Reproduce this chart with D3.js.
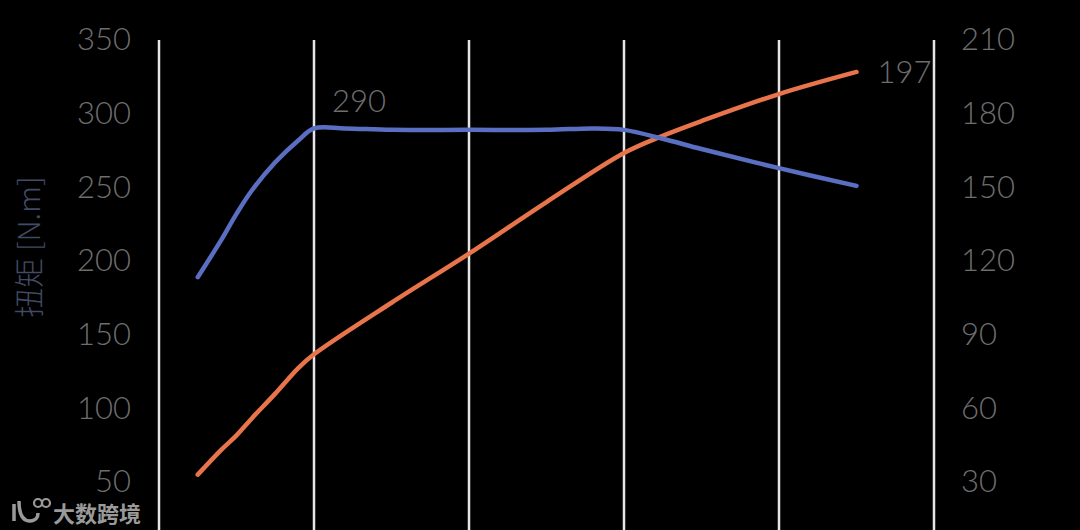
<!DOCTYPE html>
<html><head><meta charset="utf-8">
<script src="https://cdn.jsdelivr.net/npm/d3@7"></script>
<style>
html,body{margin:0;padding:0;background:#000;}
svg{display:block;}
</style></head>
<body>
<svg id="c" width="1080" height="530"></svg>
<script>
// ---- data ----
const rpmGrid = [1000, 2000, 3000, 4000, 5000, 6000];
const torqueTicks = [50, 100, 150, 200, 250, 300, 350];
const powerTicks = [30, 60, 90, 120, 150, 180, 210];
const torqueRpm = [1250, 1400, 1500, 1600, 1750, 1900, 2000, 2200, 2500, 3000, 3500, 3800, 4000, 4250, 4500, 5000, 5500];
const torqueVal = [189, 214, 232, 248, 267, 282, 290, 290, 289, 289, 289, 290, 289, 283, 276, 263, 251];
const powerRpm  = [1250, 1400, 1500, 1600, 1750, 1900, 2000, 2500, 3000, 3500, 4000, 4250, 4500, 5000, 5500];
const powerVal  = [33, 43, 49, 56, 66, 76.5, 82, 103, 123, 144, 164, 171, 177, 188, 197];
const peakTorqueLabel = "290";
const peakPowerLabel = "197";
const yLabel = "扭矩 [N.m]";
const watermark = "大数跨境";

const svg = d3.select("#c");
svg.append("rect").attr("width",1080).attr("height",530).attr("fill","#000");

const x = d3.scaleLinear().domain([1000, 6000]).range([159, 934]);
const yL = d3.scaleLinear().domain([50, 350]).range([482, 40]);
const yR = d3.scaleLinear().domain([30, 210]).range([482, 40]);

const font = "Lato, 'Open Sans', 'Liberation Sans', sans-serif";

// grid lines
svg.append("g").selectAll("line").data(rpmGrid).join("line")
  .attr("x1", d => x(d)).attr("x2", d => x(d))
  .attr("y1", 40).attr("y2", 530)
  .attr("stroke", "#e6e6e6").attr("stroke-width", 2.5);

// left axis
const gl = svg.append("g").attr("transform", "translate(131,0)")
  .call(d3.axisLeft(yL).tickValues(torqueTicks).tickSize(0).tickPadding(0).tickFormat(d3.format("d")));
gl.select(".domain").remove();
gl.selectAll("text").attr("fill", "#6e6e6e").style("font-family", font)
  .style("font-size", "31px").style("font-weight", 300);

// right axis
const gr = svg.append("g").attr("transform", "translate(961,0)")
  .call(d3.axisRight(yR).tickValues(powerTicks).tickSize(0).tickPadding(0).tickFormat(d3.format("d")));
gr.select(".domain").remove();
gr.selectAll("text").attr("fill", "#6e6e6e").style("font-family", font)
  .style("font-size", "31px").style("font-weight", 300);

// y label
svg.append("text")
  .attr("transform", "translate(40,247) rotate(-90)")
  .attr("text-anchor", "middle")
  .attr("fill", "#414b63")
  .style("font-family", "'Noto Sans CJK SC', sans-serif")
  .style("font-size", "30px").style("font-weight", 300)
  .text(yLabel);

// lines
const torqueData = torqueRpm.map((r, i) => [r, torqueVal[i]]);
const powerData = powerRpm.map((r, i) => [r, powerVal[i]]);

svg.append("path").datum(powerData)
  .attr("fill", "none").attr("stroke", "#e8744c").attr("stroke-width", 4.5)
  .attr("stroke-linecap", "round").attr("stroke-linejoin", "round")
  .attr("d", d3.line().x(d => x(d[0])).y(d => yR(d[1])).curve(d3.curveCatmullRom.alpha(0.5)));

svg.append("path").datum(torqueData)
  .attr("fill", "none").attr("stroke", "#5b6fc2").attr("stroke-width", 4.5)
  .attr("stroke-linecap", "round").attr("stroke-linejoin", "round")
  .attr("d", d3.line().x(d => x(d[0])).y(d => yL(d[1])).curve(d3.curveCatmullRom.alpha(0.5)));

// value labels
svg.append("text").attr("x", x(2000) + 18).attr("y", yL(290) - 16)
  .attr("fill", "#6e6e6e").style("font-family", font)
  .style("font-size", "31px").style("font-weight", 300)
  .text(peakTorqueLabel);
svg.append("text").attr("x", x(5500) + 21).attr("y", yR(197) + 11)
  .attr("fill", "#6e6e6e").style("font-family", font)
  .style("font-size", "31px").style("font-weight", 300)
  .text(peakPowerLabel);

// watermark
const wm = svg.append("g").attr("fill", "none").attr("stroke", "#9a9a9a").attr("stroke-width", 3.5);
wm.append("path").attr("d", "M14,504 L14,521 M19,501 C19,513 22,521 30,521 C36,521 38,517 38,513");
wm.append("circle").attr("cx", 38).attr("cy", 503).attr("r", 4).attr("stroke-width", 2.2);
wm.append("circle").attr("cx", 46).attr("cy", 503).attr("r", 4).attr("stroke-width", 2.2);
svg.append("text").attr("x", 53).attr("y", 522)
  .attr("fill", "#9a9a9a").style("font-family", "'Noto Sans CJK SC', sans-serif")
  .style("font-size", "22px").style("font-weight", 700)
  .text(watermark);
</script>
</body></html>
